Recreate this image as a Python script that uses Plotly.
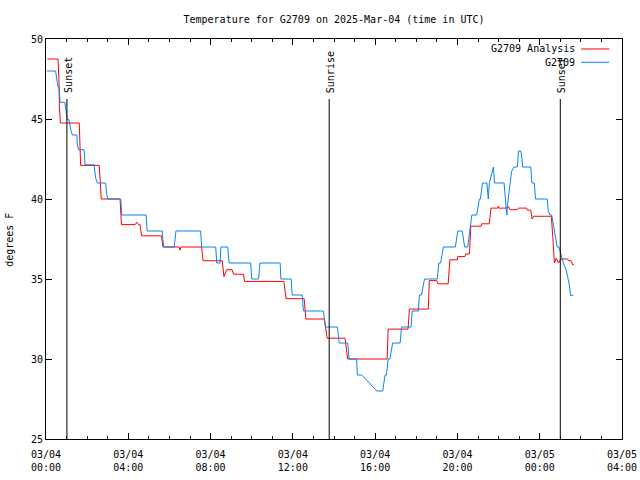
import pandas as pd
import plotly.graph_objects as go

# ---- data (times as HH:MM from 2025-03-04 00:00; hours >= 24 are on 03/05) ----
analysis_time = ["00:04", "00:35", "00:38", "00:39", "00:42", "01:37", "01:41", "02:35", "02:38", "02:41",
                 "03:36", "03:40", "04:20", "04:25", "04:30", "04:34", "04:39", "05:37", "05:41", "06:28",
                 "06:31", "06:34", "07:34", "07:38", "08:34", "08:39", "08:47", "09:03", "09:07", "09:36",
                 "09:39", "11:34", "11:40", "12:33", "12:38", "13:32", "13:40", "14:32", "14:40", "16:35",
                 "16:38", "17:36", "17:40", "18:35", "18:38", "19:00", "19:03", "19:33", "19:38", "20:00",
                 "20:01", "20:22", "20:24", "20:35", "20:39", "21:09", "21:10", "21:33", "21:38", "21:58",
                 "21:59", "22:01", "22:22", "22:25", "22:30", "22:33", "22:55", "22:58", "23:22", "23:24",
                 "23:34", "23:38", "23:42", "24:34", "24:38", "24:40", "24:43", "24:48", "24:53", "24:55",
                 "25:01", "25:21", "25:24", "25:31", "25:36", "25:40"]
analysis_temp = [48.75, 48.75, 47.3, 45.8, 44.75, 44.75, 42.1, 42.1, 41.2, 40.0,
                 40.0, 38.4, 38.4, 38.55, 38.4, 38.4, 37.7, 37.7, 37.0, 37.0,
                 36.8, 37.0, 37.0, 36.14, 36.14, 35.15, 35.58, 35.58, 35.3, 35.3,
                 34.85, 34.85, 33.77, 33.77, 32.5, 32.5, 31.3, 31.3, 30.0, 30.0,
                 31.87, 31.87, 33.12, 33.12, 34.9, 34.9, 34.7, 34.7, 36.2, 36.2,
                 36.4, 36.4, 36.56, 36.56, 38.3, 38.3, 38.45, 38.45, 39.43, 39.43,
                 39.55, 39.43, 39.43, 39.5, 39.5, 39.33, 39.33, 39.43, 39.43, 39.3,
                 39.3, 38.75, 38.92, 38.92, 37.66, 37.0, 36.0, 36.3, 36.0, 36.0,
                 36.25, 36.25, 36.15, 36.15, 35.9, 35.9]

station_time = ["00:03", "00:28", "00:31", "00:35", "00:38", "00:40", "00:41", "00:55", "00:59", "01:02",
                "01:07", "01:12", "01:17", "01:30", "01:31", "01:35", "01:51", "01:54", "02:20", "02:25",
                "02:30", "02:54", "02:57", "03:01", "03:38", "03:41", "04:52", "04:55", "05:39", "05:43",
                "06:14", "06:19", "07:31", "07:34", "08:15", "08:18", "08:28", "08:30", "08:50", "08:54",
                "09:57", "10:00", "10:20", "10:24", "11:23", "11:25", "11:55", "11:58", "12:27", "12:31",
                "13:29", "13:35", "14:10", "14:15", "14:40", "14:44", "15:06", "15:08", "15:21", "16:05",
                "16:22", "16:29", "16:33", "16:38", "16:43", "16:51", "17:13", "17:17", "17:45", "17:48",
                "18:06", "18:09", "18:15", "18:24", "19:01", "19:06", "19:11", "19:19", "19:54", "20:01",
                "20:14", "20:21", "20:30", "20:35", "20:42", "20:56", "21:04", "21:07", "21:13", "21:26",
                "21:30", "21:33", "21:37", "21:43", "21:45", "21:48", "22:16", "22:20", "22:24", "22:28",
                "22:35", "22:38", "22:45", "22:55", "22:58", "23:05", "23:08", "23:10", "23:34", "23:37",
                "23:44", "23:48", "24:22", "24:25", "24:30", "24:35", "24:43", "24:51", "24:56", "25:04",
                "25:09", "25:17", "25:26", "25:30", "25:38"]
station_temp = [48.0, 48.0, 47.56, 47.0, 47.0, 46.2, 46.04, 46.04, 45.27, 44.96,
                44.96, 44.33, 44.0, 44.0, 43.44, 43.08, 43.08, 42.14, 42.14, 41.3,
                41.0, 41.0, 40.27, 40.0, 40.0, 39.0, 39.0, 38.0, 38.0, 37.0,
                37.0, 38.0, 38.0, 37.0, 37.0, 36.0, 36.0, 37.0, 37.0, 36.0,
                36.0, 35.0, 35.0, 36.0, 36.0, 35.0, 35.0, 34.0, 34.0, 33.0,
                33.0, 32.0, 32.0, 31.0, 31.0, 30.0, 30.0, 29.0, 29.0, 28.0,
                28.0, 29.0, 29.0, 30.0, 30.0, 31.0, 31.0, 32.0, 32.0, 33.0,
                33.0, 34.0, 34.0, 35.0, 35.0, 36.0, 36.0, 37.0, 37.0, 38.0,
                38.0, 37.0, 37.0, 38.0, 39.0, 39.0, 40.0, 40.0, 41.0, 41.0,
                40.0, 41.0, 41.3, 41.73, 42.0, 41.0, 41.0, 40.0, 39.0, 40.0,
                41.0, 41.73, 42.0, 42.0, 43.0, 43.0, 42.56, 42.0, 42.0, 41.0,
                41.0, 40.0, 40.0, 39.23, 39.0, 39.0, 38.0, 37.0, 37.0, 36.4,
                36.0, 35.58, 34.7, 33.96, 34.0]

events = ["Sunset", "Sunrise", "Sunset"]
event_time = ["01:01", "13:46", "25:00"]

series_names = ["G2709 Analysis", "G2709"]
series_colors = ["#ff0000", "#0a84f0"]

BASE = pd.Timestamp("2025-03-04 00:00")


def to_dt(hhmm_list):
    out = []
    for s in hhmm_list:
        h, m = s.split(":")
        out.append(BASE + pd.Timedelta(hours=int(h), minutes=int(m)))
    return out


FONT = "DejaVu Sans Mono"
W, H = 640, 480

fig = go.Figure()
fig.add_trace(go.Scatter(x=to_dt(analysis_time), y=analysis_temp, mode="lines",
                         line=dict(color=series_colors[0], width=1), name=series_names[0]))
fig.add_trace(go.Scatter(x=to_dt(station_time), y=station_temp, mode="lines",
                         line=dict(color=series_colors[1], width=1), name=series_names[1]))

# sunrise / sunset markers
for name, t in zip(events, to_dt(event_time)):
    fig.add_shape(type="line", x0=t, x1=t, y0=25, y1=46.25, xref="x", yref="y",
                  line=dict(color="black", width=1))
    fig.add_annotation(x=t, y=46.5, xref="x", yref="y", text=name, textangle=-90,
                       showarrow=False, xanchor="center", yanchor="bottom", xshift=1,
                       font=dict(family=FONT, size=10, color="black"))

# gnuplot-style legend: text then line sample, top-right
rows_y = [0.9751, 0.9419]
for name, color, yy in zip(series_names, series_colors, rows_y):
    fig.add_annotation(x=0.922, y=yy, xref="paper", yref="paper", text=name, showarrow=False,
                       xanchor="right", yanchor="middle",
                       font=dict(family=FONT, size=10, color="black"))
    fig.add_shape(type="line", x0=0.929, x1=0.978, y0=yy, y1=yy, xref="paper", yref="paper",
                  line=dict(color=color, width=1))

# y-axis label placed like gnuplot's
fig.add_annotation(x=-0.0625, y=0.498, xref="paper", yref="paper", text="degrees F", textangle=-90,
                   showarrow=False, xanchor="center", yanchor="middle",
                   font=dict(family=FONT, size=10, color="black"))

fig.update_layout(
    width=W, height=H,
    margin=dict(l=46, r=W - 622, t=39, b=H - 439, autoexpand=False),
    paper_bgcolor="white", plot_bgcolor="white",
    showlegend=False,
    font=dict(family=FONT, size=10, color="black"),
    title=dict(text="Temperature for G2709 on 2025-Mar-04 (time in UTC)", x=0.5, xref="paper",
               y=1 - 19 / H, yanchor="middle", xanchor="center",
               font=dict(family=FONT, size=10, color="black")),
)
fig.update_xaxes(
    range=[BASE, BASE + pd.Timedelta(hours=28)],
    tickmode="linear", tick0=BASE, dtick=4 * 3600 * 1000,
    tickformat="%m/%d<br>%H:%M",
    ticks="inside", ticklen=6, tickcolor="black", ticklabelstandoff=6,
    minor=dict(dtick=3600 * 1000, ticks="inside", ticklen=3, tickcolor="black"),
    showline=True, linecolor="black", linewidth=1, mirror="ticks",
    showgrid=False, zeroline=False, automargin=False,
    tickfont=dict(family=FONT, size=10, color="black"),
)
fig.update_yaxes(
    range=[25, 50], tickmode="linear", tick0=25, dtick=5,
    ticks="inside", ticklen=6, tickcolor="black",
    showline=True, linecolor="black", linewidth=1, mirror="ticks",
    showgrid=False, zeroline=False, automargin=False,
    tickfont=dict(family=FONT, size=10, color="black"),
)

# remove the browser's default 8px body margin so the 640x480 figure fills the window exactly
fig.write_html("out.html",
               config={"displayModeBar": False},
               post_script="document.body.style.margin='0px';document.body.style.overflow='hidden';")
